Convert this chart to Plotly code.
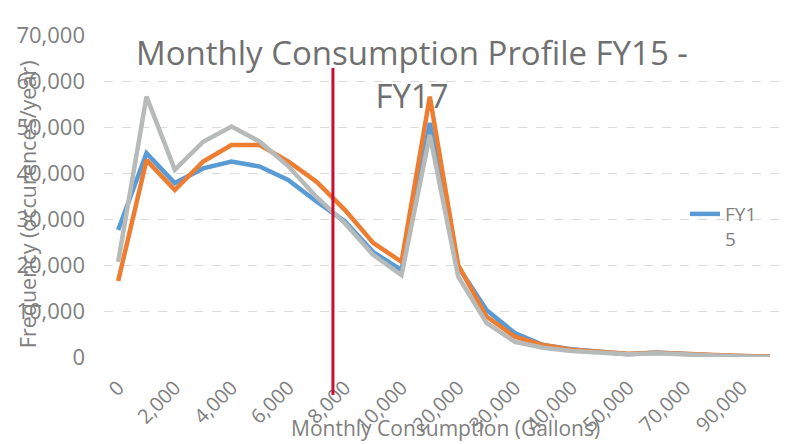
import plotly.graph_objects as go

# ---- data ----
categories = ["0", "1,000", "2,000", "3,000", "4,000", "5,000", "6,000", "7,000", "8,000",
              "9,000", "10,000", "15,000", "20,000", "25,000", "30,000", "35,000", "40,000",
              "45,000", "50,000", "60,000", "70,000", "80,000", "90,000", "100,000"]
tick_labels = ["0", "2,000", "4,000", "6,000", "8,000", "10,000", "20,000", "30,000",
               "40,000", "50,000", "70,000", "90,000"]
fy15 = [27600, 44300, 37800, 41000, 42500, 41400, 38500, 33800, 29500, 22800, 18900, 50900,
        19600, 10200, 5200, 2600, 1700, 1100, 600, 1000, 600, 400, 200, 100]
fy16 = [16500, 42800, 36300, 42500, 46100, 46100, 42500, 38100, 32000, 24800, 20700, 56600,
        20000, 8800, 4400, 2600, 1600, 1100, 700, 900, 600, 300, 200, 100]
fy17 = [20700, 56600, 40700, 46800, 50100, 46800, 41500, 34800, 29100, 22200, 17800, 48300,
        17500, 7400, 3300, 2000, 1300, 900, 600, 800, 500, 300, 100, 0]
marker_category_pos = 7.58  # red reference line position (category index)

title_text = "Monthly Consumption Profile FY15 -<br>FY17"
x_title = "Monthly Consumption (Gallons)"
y_title = "Frequency (occurences/year)"

FONT = "Open Sans"
GRAY = "#808080"

# page body has an 8px margin: figure is 784x436 so the visible frame matches
W, H = 784, 436
L, R, T, B = 96, 8, 27, 87
PW = W - L - R

fig = go.Figure()
fig.add_trace(go.Scatter(x=categories, y=fy15, mode="lines", name="FY1<br>5",
                         line=dict(color="#5B9BD5", width=4.5), showlegend=True))
fig.add_trace(go.Scatter(x=categories, y=fy16, mode="lines", name="FY16",
                         line=dict(color="#ED7D31", width=4.5), showlegend=False))
fig.add_trace(go.Scatter(x=categories, y=fy17, mode="lines", name="FY17",
                         line=dict(color="#B6BAB9", width=4.5), showlegend=False))

fig.add_shape(type="line", xref="x", yref="paper", x0=marker_category_pos, x1=marker_category_pos,
              y0=-0.118, y1=0.8975, line=dict(color="#C8102E", width=3), layer="above")

fig.update_layout(
    width=W, height=H,
    margin=dict(l=L, r=R, t=T, b=B),
    paper_bgcolor="white", plot_bgcolor="white",
    font=dict(family=FONT, color=GRAY, size=19),
    title=dict(text=title_text, x=404 / W, xanchor="center", xref="container",
               yref="container", y=1 - 57 / H, yanchor="top",
               font=dict(family=FONT, size=33, color="#707070")),
    legend=dict(x=(677 - L) / PW, xanchor="left", y=0.503, yanchor="top", valign="top",
                bgcolor="rgba(0,0,0,0)", font=dict(size=19, color=GRAY)),
    xaxis=dict(type="category", categoryorder="array", categoryarray=categories,
               range=[-0.5, len(categories) - 0.5],
               tickmode="array", tickvals=categories[::2], ticktext=tick_labels,
               tickangle=-45, showgrid=False, showline=False, zeroline=False,
               ticks="", ticklabelstandoff=14,
               tickfont=dict(size=20, color=GRAY), automargin=False),
    yaxis=dict(range=[0, 70000], tickvals=[0, 10000, 20000, 30000, 40000, 50000, 60000, 70000],
               tickformat=",d", showgrid=True, gridcolor="#DADADA", griddash="dash",
               zeroline=False, showline=False, ticks="", ticklabelstandoff=18,
               tickfont=dict(size=22, color=GRAY), automargin=False),
    annotations=[
        dict(text=x_title, xref="paper", yref="paper", x=(437 - L) / PW, y=-0.22,
             xanchor="center", yanchor="middle", showarrow=False,
             font=dict(family=FONT, size=21, color=GRAY)),
        dict(text=y_title, xref="paper", yref="paper", x=(19 - L) / PW, y=0.4745,
             xanchor="center", yanchor="middle", textangle=-90, showarrow=False,
             font=dict(family=FONT, size=21.5, color=GRAY)),
    ],
)

fig.write_html("out.html")
